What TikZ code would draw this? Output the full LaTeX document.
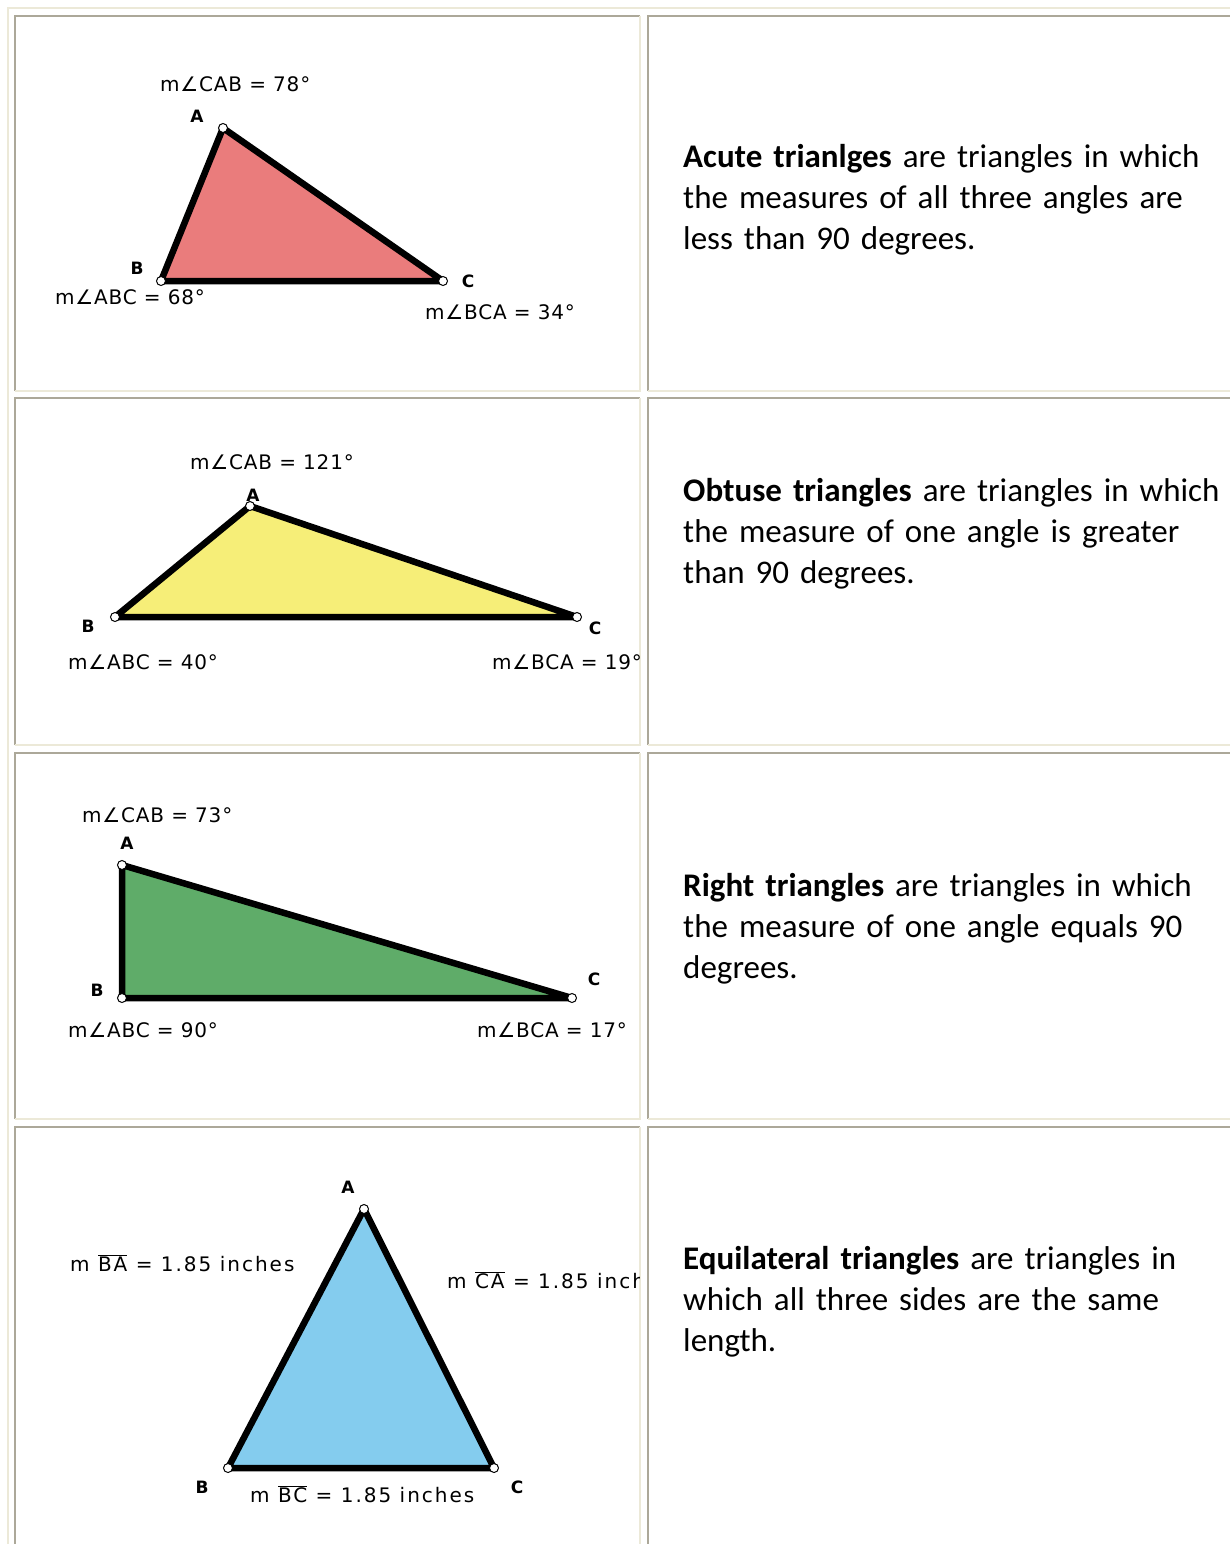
\documentclass[tikz,border=0pt]{standalone}
\usepackage{fontspec}
\setmainfont{Carlito}
\newfontfamily\pixfont[LetterSpace=4]{DejaVu Sans}
\newfontfamily\pixwide[LetterSpace=10]{DejaVu Sans}
\usepackage{xcolor}
\definecolor{BorderLight}{HTML}{ECE9D8}
\definecolor{BorderDark}{HTML}{ACA899}
\definecolor{TriRed}{HTML}{EA7C7C}
\definecolor{TriYellow}{HTML}{F6EE78}
\definecolor{TriGreen}{HTML}{5FAC69}
\definecolor{TriBlue}{HTML}{84CCEE}

\begin{document}
\begin{tikzpicture}[
	x=1pt, y=-1pt, % one unit per pixel, y runs downwards
	% Style for the light (outset) border lines
	light edge/.style={
		draw=BorderLight,
		line width=2pt
	},
	% Style for the dark (inset) border lines
	dark edge/.style={
		draw=BorderDark,
		line width=2pt
	},
	% Style for the triangle outlines
	tri/.style={
		draw=black,
		line width=6.5pt,
		line join=round
	},
	% Little white handles on the vertices
	handle/.style={
		circle,
		draw=black,
		fill=white,
		line width=1pt,
		inner sep=0pt,
		minimum size=9pt
	},
	% Bold vertex letters
	vlabel/.style={
		font=\pixfont\bfseries\fontsize{17}{17}\selectfont,
		inner sep=0pt
	},
	% Style for the angle measurements
	measure/.style={
		font=\pixfont\fontsize{20}{22}\selectfont,
		inner sep=0pt,
		anchor=west
	},
	% Style for the side lengths
	length/.style={
		font=\pixwide\fontsize{20}{22}\selectfont,
		inner sep=0pt,
		anchor=west
	},
	% Style for the text in the right column
	desc/.style={
		font=\fontsize{33}{41}\selectfont,
		inner sep=0pt,
		anchor=base west,
		align=left,
		text width=600pt
	}
	]
	
	\useasboundingbox[fill=white] (0,0) rectangle (1230,1544);
	
	% 1. Table borders
	\draw[light edge] (7.5,1544) -- (7.5,8) -- (1230,8);
	
	\draw[dark edge] (15,391) -- (15,16) -- (640,16);
	\draw[light edge] (640,16) -- (640,391) -- (15,391);
	\draw[dark edge] (648,391) -- (648,16) -- (1230,16);
	\draw[light edge] (648,391) -- (1230,391);
	
	\draw[dark edge] (15,745) -- (15,398) -- (640,398);
	\draw[light edge] (640,398) -- (640,745) -- (15,745);
	\draw[dark edge] (648,745) -- (648,398) -- (1230,398);
	\draw[light edge] (648,745) -- (1230,745);
	
	\draw[dark edge] (15,1119) -- (15,753) -- (640,753);
	\draw[light edge] (640,753) -- (640,1119) -- (15,1119);
	\draw[dark edge] (648,1119) -- (648,753) -- (1230,753);
	\draw[light edge] (648,1119) -- (1230,1119);
	
	\draw[dark edge] (15,1544) -- (15,1127) -- (640,1127);
	\draw[light edge] (640,1127) -- (640,1544);
	\draw[dark edge] (648,1544) -- (648,1127) -- (1230,1127);
	
	% 2. Acute triangle
	\coordinate (A1) at (223,128);
	\coordinate (B1) at (161,281);
	\coordinate (C1) at (443,281);
	\filldraw[tri, fill=TriRed] (A1) -- (B1) -- (C1) -- cycle;
	\node[handle] (hA1) at (A1) {};
	\node[handle] (hB1) at (B1) {};
	\node[handle] (hC1) at (C1) {};
	\node[vlabel] (lA1) at (197,116) {A};
	\node[vlabel] (lB1) at (137,268) {B};
	\node[vlabel] (lC1) at (468,281) {C};
	\node[measure] (cab1) at (160,84) {m∠CAB = 78°};
	\node[measure] (abc1) at (55,297) {m∠ABC = 68°};
	\node[measure] (bca1) at (425,312) {m∠BCA = 34°};
	
	% 3. Obtuse triangle
	\coordinate (A2) at (250,506);
	\coordinate (B2) at (115,617);
	\coordinate (C2) at (577,617);
	\filldraw[tri, fill=TriYellow] (A2) -- (B2) -- (C2) -- cycle;
	\node[handle] (hA2) at (A2) {};
	\node[handle] (hB2) at (B2) {};
	\node[handle] (hC2) at (C2) {};
	\node[vlabel] (lA2) at (253,495) {A};
	\node[vlabel] (lB2) at (88,626) {B};
	\node[vlabel] (lC2) at (595,628) {C};
	\node[measure] (cab2) at (190,462) {m∠CAB = 121°};
	\node[measure] (abc2) at (68,662) {m∠ABC = 40°};
	\begin{scope}
		\clip (15,398) rectangle (639,745);
		\node[measure] (bca2) at (492,662) {m∠BCA = 19°};
	\end{scope}
	
	% 4. Right triangle
	\coordinate (A3) at (122,865);
	\coordinate (B3) at (122,998);
	\coordinate (C3) at (572,998);
	\filldraw[tri, fill=TriGreen] (A3) -- (B3) -- (C3) -- cycle;
	\node[handle] (hA3) at (A3) {};
	\node[handle] (hB3) at (B3) {};
	\node[handle] (hC3) at (C3) {};
	\node[vlabel] (lA3) at (127,843) {A};
	\node[vlabel] (lB3) at (97,990) {B};
	\node[vlabel] (lC3) at (594,979) {C};
	\node[measure] (cab3) at (82,815) {m∠CAB = 73°};
	\node[measure] (abc3) at (68,1030) {m∠ABC = 90°};
	\node[measure] (bca3) at (477,1030) {m∠BCA = 17°};
	
	% 5. Equilateral triangle
	\coordinate (A4) at (364,1209);
	\coordinate (B4) at (228,1468);
	\coordinate (C4) at (494,1468);
	\filldraw[tri, fill=TriBlue] (A4) -- (B4) -- (C4) -- cycle;
	\node[handle] (hA4) at (A4) {};
	\node[handle] (hB4) at (B4) {};
	\node[handle] (hC4) at (C4) {};
	\node[vlabel] (lA4) at (348,1187) {A};
	\node[vlabel] (lB4) at (202,1487) {B};
	\node[vlabel] (lC4) at (517,1487) {C};
	\node[length] (ba4) at (70,1263) {m $\overline{\hbox{BA}}$ = 1.85 inches};
	\node[length] (bc4) at (250,1494) {m $\overline{\hbox{BC}}$ = 1.85 inches};
	\begin{scope}
		\clip (15,1127) rectangle (639,1544);
		\node[length] (ca4) at (447,1280) {m $\overline{\hbox{CA}}$ = 1.85 inches};
	\end{scope}
	
	% 6. Descriptions in the right column
	\node[desc] (acute) at (683,167) {\textbf{Acute trianlges} are triangles in which\\the measures of all three angles are\\less than 90 degrees.};
	\node[desc] (obtuse) at (683,501) {\textbf{Obtuse triangles} are triangles in which\\the measure of one angle is greater\\than 90 degrees.};
	\node[desc] (right) at (683,896) {\textbf{Right triangles} are triangles in which\\the measure of one angle equals 90\\degrees.};
	\node[desc] (equi) at (683,1269) {\textbf{Equilateral triangles} are triangles in\\which all three sides are the same\\length.};
	
\end{tikzpicture}
\end{document}
